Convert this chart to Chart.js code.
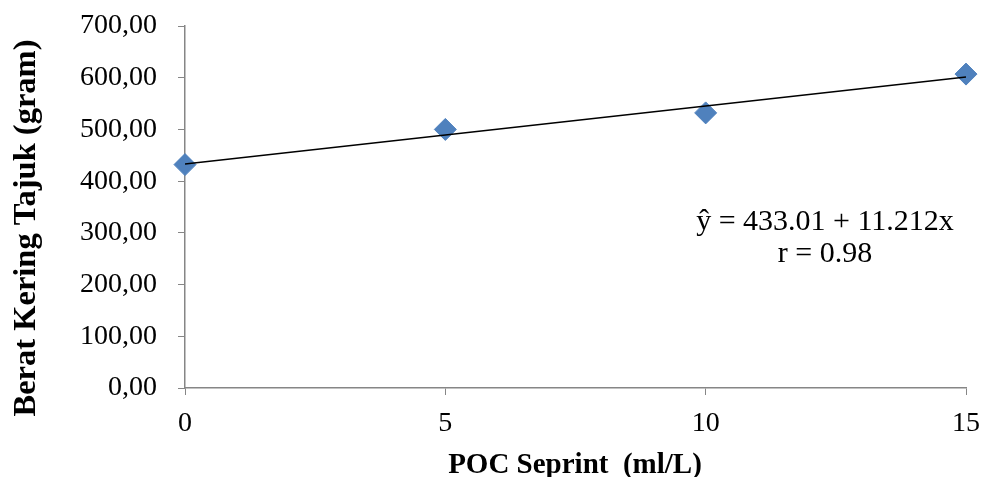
<!DOCTYPE html>
<html>
<head>
<meta charset="utf-8">
<script src="https://cdn.jsdelivr.net/npm/chart.js"></script>
<style>
    html, body { margin: 0; padding: 0; background: #fff; }
    #wrap { width: 984px; height: 477px; }
</style>
</head>
<body>
<div id="wrap"><canvas id="grafik"></canvas></div>
<script>
// Datos
const dosis = [0, 5, 10, 15];
const beratKering = [432, 500, 532, 607];
// Recta de regresion: y = 433.01 + 11.212x (extremos)
const trendX = [0, 15];
const trendY = [433.01, 601.19];
const yTicks = [0, 100, 200, 300, 400, 500, 600, 700];
const xTicks = [0, 5, 10, 15];

const fuente = "'Liberation Serif', 'Times New Roman', serif";
const gris = '#868686';

// Textos extra: titulos de ejes y ecuacion
const textosPlugin = {
    id: 'textos',
    afterDraw(chart) {
        const ctx = chart.ctx;
        ctx.save();
        ctx.fillStyle = '#000';
        ctx.textAlign = 'center';

        // titulo eje Y
        ctx.font = 'bold 32.5px ' + fuente;
        ctx.textBaseline = 'middle';
        ctx.save();
        ctx.translate(27, 228);
        ctx.rotate(-Math.PI / 2);
        ctx.fillText('Berat Kering Tajuk (gram)', 0, 0);
        ctx.restore();

        // titulo eje X
        ctx.font = 'bold 29px ' + fuente;
        ctx.textBaseline = 'alphabetic';
        ctx.fillText('POC Seprint  (ml/L)', 575, 473);

        // ecuacion
        ctx.font = '30px ' + fuente;
        ctx.textBaseline = 'middle';
        ctx.fillText('ŷ = 433.01 + 11.212x', 825, 222);
        ctx.fillText('r = 0.98', 825, 254);
        ctx.restore();
    }
};

const ctx = document.getElementById('grafik').getContext('2d');
new Chart(ctx, {
    type: 'scatter',
    data: {
        datasets: [
            {
                label: 'Tren',
                data: trendX.map((x, i) => ({ x: x, y: trendY[i] })),
                showLine: true,
                borderColor: '#000',
                borderWidth: 1.5,
                pointRadius: 0,
                clip: false,
                order: 0
            },
            {
                label: 'Berat Kering Tajuk',
                data: dosis.map((x, i) => ({ x: x, y: beratKering[i] })),
                pointStyle: 'rectRot',
                pointRadius: 11,
                backgroundColor: '#4F81BD',
                borderColor: '#4F81BD',
                borderWidth: 1,
                clip: false,
                order: 1
            }
        ]
    },
    options: {
        responsive: true,
        maintainAspectRatio: false,
        animation: false,
        layout: { padding: { top: 26, right: 18, left: 0, bottom: 0 } },
        plugins: {
            legend: { display: false },
            tooltip: { enabled: false }
        },
        scales: {
            x: {
                type: 'linear',
                min: 0,
                max: 15,
                afterBuildTicks: s => { s.ticks = xTicks.map(v => ({ value: v })); },
                afterFit: s => {
                    s.height = 89;
                    s.paddingLeft = 0;
                    s.paddingRight = 0;
                },
                ticks: {
                    font: { family: fuente, size: 28 },
                    color: '#000',
                    padding: 12
                },
                grid: { drawOnChartArea: false, tickLength: 7, color: gris },
                border: { color: gris, width: 1.5 }
            },
            y: {
                min: 0,
                max: 700,
                afterBuildTicks: s => { s.ticks = yTicks.map(v => ({ value: v })); },
                afterFit: s => {
                    s.width = 185;
                    s.paddingTop = 0;
                    s.paddingBottom = 0;
                },
                ticks: {
                    font: { family: fuente, size: 28 },
                    color: '#000',
                    padding: 21,
                    callback: v => v.toFixed(2).replace('.', ',')
                },
                grid: { drawOnChartArea: false, tickLength: 7, color: gris },
                border: { color: gris, width: 1.5 }
            }
        }
    },
    plugins: [textosPlugin]
});
</script>
</body>
</html>
